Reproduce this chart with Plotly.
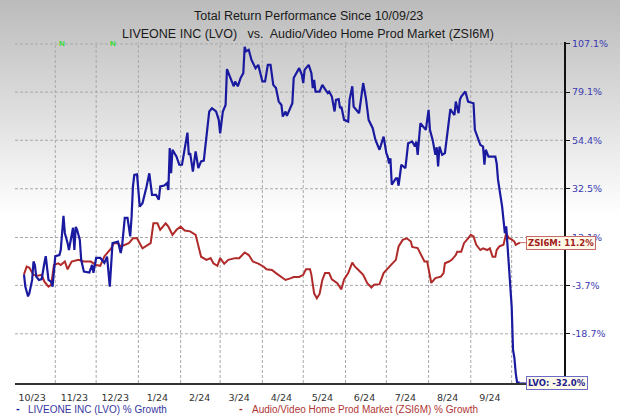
import math
import plotly.graph_objects as go

# ---------------- data ----------------
lvo_dates = [
    "2023-10-09", "2023-10-10", "2023-10-12", "2023-10-13", "2023-10-15", "2023-10-16", "2023-10-17",
    "2023-10-18", "2023-10-20", "2023-10-22", "2023-10-24", "2023-10-25", "2023-10-27", "2023-10-29",
    "2023-10-30", "2023-10-31", "2023-11-01", "2023-11-04", "2023-11-05", "2023-11-07", "2023-11-08",
    "2023-11-10", "2023-11-11", "2023-11-14", "2023-11-15", "2023-11-16", "2023-11-17", "2023-11-19",
    "2023-11-20", "2023-11-22", "2023-11-26", "2023-11-28", "2023-11-29", "2023-12-01", "2023-12-04",
    "2023-12-07", "2023-12-09", "2023-12-11", "2023-12-13", "2023-12-17", "2023-12-19", "2023-12-20",
    "2023-12-22", "2023-12-24", "2023-12-26", "2023-12-27", "2023-12-28", "2023-12-29", "2023-12-31",
    "2024-01-02", "2024-01-04", "2024-01-07", "2024-01-09", "2024-01-11", "2024-01-14", "2024-01-16",
    "2024-01-17", "2024-01-20", "2024-01-22", "2024-01-23", "2024-01-24", "2024-01-25", "2024-01-26",
    "2024-01-29", "2024-01-31", "2024-02-02", "2024-02-04", "2024-02-06", "2024-02-07", "2024-02-08",
    "2024-02-10", "2024-02-12", "2024-02-14", "2024-02-16", "2024-02-18", "2024-02-20", "2024-02-22",
    "2024-02-24", "2024-02-27", "2024-02-29", "2024-03-01", "2024-03-03", "2024-03-05", "2024-03-06",
    "2024-03-08", "2024-03-11", "2024-03-12", "2024-03-14", "2024-03-16", "2024-03-18", "2024-03-19",
    "2024-03-20", "2024-03-22", "2024-03-24", "2024-03-27", "2024-03-29", "2024-04-01", "2024-04-03",
    "2024-04-05", "2024-04-07", "2024-04-09", "2024-04-11", "2024-04-13", "2024-04-15", "2024-04-16",
    "2024-04-18", "2024-04-19", "2024-04-23", "2024-04-24", "2024-04-26", "2024-04-28", "2024-04-30",
    "2024-05-01", "2024-05-02", "2024-05-05", "2024-05-07", "2024-05-08", "2024-05-09", "2024-05-10",
    "2024-05-13", "2024-05-15", "2024-05-17", "2024-05-19", "2024-05-20", "2024-05-22", "2024-05-24",
    "2024-05-25", "2024-05-27", "2024-05-28", "2024-05-29", "2024-05-31", "2024-06-03", "2024-06-04",
    "2024-06-06", "2024-06-07", "2024-06-09", "2024-06-11", "2024-06-14", "2024-06-16", "2024-06-18",
    "2024-06-21", "2024-06-23", "2024-06-26", "2024-06-29", "2024-07-01", "2024-07-02", "2024-07-03",
    "2024-07-04", "2024-07-05", "2024-07-08", "2024-07-09", "2024-07-10", "2024-07-12", "2024-07-15",
    "2024-07-17", "2024-07-20", "2024-07-22", "2024-07-23", "2024-07-24", "2024-07-26", "2024-07-28",
    "2024-07-30", "2024-08-01", "2024-08-02", "2024-08-04", "2024-08-05", "2024-08-06", "2024-08-07",
    "2024-08-08", "2024-08-09", "2024-08-11", "2024-08-13", "2024-08-15", "2024-08-17", "2024-08-18",
    "2024-08-20", "2024-08-21", "2024-08-23", "2024-08-24", "2024-08-25", "2024-08-28", "2024-08-30",
    "2024-09-01", "2024-09-03", "2024-09-04", "2024-09-05", "2024-09-07", "2024-09-08", "2024-09-10",
    "2024-09-11", "2024-09-12", "2024-09-14", "2024-09-17", "2024-09-19", "2024-09-20", "2024-09-21",
    "2024-09-24", "2024-09-26", "2024-09-27", "2024-09-28", "2024-09-29", "2024-10-01", "2024-10-02",
    "2024-10-03", "2024-10-04", "2024-10-05", "2024-10-07",
]
lvo_pct = [
    0, -4.1, -7.3, -6.2, -1.9, 4.4, 3.2,
    -0.8, -1.9, -1.6, 3.9, 6.3, -1.9, -2.5,
    -4.1, 1.5, 6.3, 6.7, 8.5, 21.4, 14.8,
    11.1, 8.5, 16.8, 8.5, 17.1, 16.0, 12.2,
    5.0, 0.9, 0.6, 3.2, 0.5, 5.7, 5.7,
    3.9, 6.1, -4.1, 11.0, 11.6, 7.4, 9.8,
    20.6, 20.6, 13.5, 21.1, 33.5, 38.5, 38.7,
    25.1, 26.5, 33.5, 39.2, 29.9, 29.9, 27.9,
    33.5, 33.9, 34.9, 32.0, 50.7, 39.2, 49.9,
    46.7, 43.0, 43.0, 51.4, 58.1, 47.5, 48.3,
    39.9, 49.1, 41.5, 44.5, 44.9, 56.2, 68.8,
    70.5, 68.8, 64.5, 57.8, 68.8, 72.2, 92.0,
    87.8, 82.3, 85.0, 82.3, 86.9, 89.7, 105.3,
    102.6, 103.5, 97.4, 92.6, 94.5, 85.0, 85.0,
    94.5, 94.5, 83.1, 81.3, 74.0, 72.2, 66.2,
    68.8, 66.5, 73.1, 86.9, 89.7, 92.6, 88.7,
    84.1, 91.6, 94.5, 89.7, 81.3, 85.9, 79.4,
    79.4, 83.1, 80.7, 78.6, 79.4, 76.7, 68.8,
    74.9, 75.3, 70.5, 71.3, 64.5, 63.6, 74.9,
    82.3, 71.3, 69.6, 67.9, 84.1, 75.8, 64.5,
    60.3, 54.6, 49.9, 56.2, 48.3, 46.7, 43.6,
    45.9, 34.2, 37.0, 37.0, 33.8, 43.0, 41.5,
    53.0, 53.8, 51.4, 53.8, 47.5, 62.8, 61.1,
    59.5, 69.6, 59.5, 54.6, 50.7, 47.5, 51.1,
    42.2, 51.4, 47.5, 48.3, 57.8, 70.0, 68.8,
    67.0, 74.0, 67.9, 74.9, 76.7, 79.4, 74.0,
    73.5, 73.1, 59.5, 57.8, 53.8, 52.2, 51.4,
    43.0, 49.9, 46.7, 46.7, 46.7, 43.6, 36.3,
    25.1, 14.7, 17.3, 9.8, 2.6, -10.5, -23.3,
    -25.5, -29.6, -32.0, -32.0,
]

zsi_dates = [
    "2023-10-09", "2023-10-11", "2023-10-13", "2023-10-16", "2023-10-19", "2023-10-22", "2023-10-24",
    "2023-10-27", "2023-10-29", "2023-10-30", "2023-10-31", "2023-11-03", "2023-11-05", "2023-11-08",
    "2023-11-10", "2023-11-13", "2023-11-18", "2023-11-22", "2023-11-27", "2023-12-01", "2023-12-04",
    "2023-12-07", "2023-12-09", "2023-12-12", "2023-12-14", "2023-12-17", "2023-12-19", "2023-12-22",
    "2023-12-25", "2023-12-28", "2023-12-31", "2024-01-04", "2024-01-08", "2024-01-10", "2024-01-12",
    "2024-01-15", "2024-01-17", "2024-01-21", "2024-01-23", "2024-01-26", "2024-01-29", "2024-02-01",
    "2024-02-04", "2024-02-08", "2024-02-12", "2024-02-14", "2024-02-16", "2024-02-20", "2024-02-23",
    "2024-02-25", "2024-02-28", "2024-03-01", "2024-03-04", "2024-03-07", "2024-03-12", "2024-03-15",
    "2024-03-19", "2024-03-22", "2024-03-25", "2024-03-29", "2024-04-02", "2024-04-04", "2024-04-08",
    "2024-04-11", "2024-04-15", "2024-04-18", "2024-04-22", "2024-04-24", "2024-04-28", "2024-05-01",
    "2024-05-03", "2024-05-06", "2024-05-07", "2024-05-09", "2024-05-11", "2024-05-13", "2024-05-15",
    "2024-05-17", "2024-05-20", "2024-05-22", "2024-05-26", "2024-05-29", "2024-05-31", "2024-06-03",
    "2024-06-06", "2024-06-08", "2024-06-10", "2024-06-14", "2024-06-17", "2024-06-20", "2024-06-22",
    "2024-06-26", "2024-06-29", "2024-07-02", "2024-07-05", "2024-07-08", "2024-07-10", "2024-07-13",
    "2024-07-16", "2024-07-19", "2024-07-20", "2024-07-24", "2024-07-26", "2024-07-29", "2024-07-31",
    "2024-08-03", "2024-08-06", "2024-08-10", "2024-08-12", "2024-08-13", "2024-08-16", "2024-08-18",
    "2024-08-21", "2024-08-22", "2024-08-25", "2024-08-27", "2024-08-30", "2024-09-01", "2024-09-03",
    "2024-09-05", "2024-09-08", "2024-09-10", "2024-09-13", "2024-09-15", "2024-09-17", "2024-09-19",
    "2024-09-20", "2024-09-22", "2024-09-25", "2024-09-26", "2024-09-27", "2024-09-29", "2024-10-01",
    "2024-10-03", "2024-10-04", "2024-10-07",
]
zsi_pct = [
    0, 2.6, 2.2, -0.2, -0.5, -0.2, -2.5,
    -4.1, -3.5, -0.2, 3.2, 3.8, 3.2, 4.4,
    1.7, 4.4, 5.0, 4.4, 4.4, 3.2, 2.9,
    6.2, 7.3, 9.1, 11.0, 11.0, 9.8, 10.4,
    11.0, 12.8, 12.8, 9.1, 10.4, 11.0, 18.5,
    18.5, 16.0, 18.5, 17.2, 14.1, 16.0, 17.2,
    15.7, 15.4, 14.1, 9.8, 6.1, 5.0, 5.6,
    3.8, 2.9, 5.6, 3.6, 5.0, 5.6, 5.6,
    7.6, 6.7, 4.4, 3.7, 2.6, 1.7, 1.5,
    0.4, -0.9, -1.9, -1.3, -0.9, -0.9, -0.2,
    1.7, 1.7, -0.2, -6.3, -7.9, -6.5, -1.9,
    0.4, 0.4, -1.7, -3.0, -5.0, -1.7, 0.4,
    4.0, 2.6, 1.7, -0.2, -3.0, -4.4, -3.5,
    -3.3, 0.4, 2.1, 3.5, 5.0, 9.8, 12.2,
    12.8, 11.6, 9.6, 9.2, 7.4, 4.4, 4.4,
    -2.9, -1.3, -0.8, 0.4, 3.8, 4.4, 5.0,
    6.7, 7.9, 7.9, 11.0, 12.8, 14.1, 13.5,
    10.4, 8.5, 9.1, 8.5, 9.1, 6.1, 6.1,
    8.5, 9.8, 10.4, 12.2, 14.7, 12.8, 12.4,
    11.6, 10.4, 11.2,
]

y_tick_pct = [-18.7, -3.7, 13.1, 32.5, 54.4, 79.1, 107.1]
y_tick_text = ["-18.7%", "-3.7%", "13.1%", "32.5%", "54.4%", "79.1%", "107.1%"]

x_tick_dates = ["2023-10-15", "2023-11-15", "2023-12-15", "2024-01-15", "2024-02-15", "2024-03-15",
                "2024-04-15", "2024-05-15", "2024-06-15", "2024-07-15", "2024-08-15", "2024-09-15"]
x_tick_text = ["10/23", "11/23", "12/23", "1/24", "2/24", "3/24", "4/24", "5/24", "6/24", "7/24", "8/24", "9/24"]
month_starts = ["2023-11-01", "2023-12-01", "2024-01-01", "2024-02-01", "2024-03-01", "2024-04-01",
                "2024-05-01", "2024-06-01", "2024-07-01", "2024-08-01", "2024-09-01", "2024-10-01"]
news_dates = ["2023-11-06", "2023-12-13"]

lvo_name = "LIVEONE INC (LVO) % Growth"
zsi_name = "Audio/Video Home Prod Market (ZSI6M) % Growth"

# ---------------- styling ----------------
OFFSET = 130.0  # the chart's return scale is logarithmic in (OFFSET + %)
BLUE = "#1a1aa0"
RED = "#b02a2a"
GRID = "#a8a8a8"
GRID_DASH = "3px,2px"

L, R, T, B = 15, 53, 42, 33
W, H = 620, 416
pw, ph = W - L - R, H - T - B


def px2paper_x(px):
    return (px - L) / pw


def px2paper_y(py):
    return (H - B - py) / ph


fig = go.Figure()
fig.add_trace(go.Scatter(x=zsi_dates, y=[OFFSET + v for v in zsi_pct], mode="lines",
                         line=dict(color=RED, width=2), name=zsi_name, showlegend=False))
fig.add_trace(go.Scatter(x=lvo_dates, y=[OFFSET + v for v in lvo_pct], mode="lines",
                         line=dict(color=BLUE, width=2.2), name=lvo_name, showlegend=False))

# dashed grid, drawn beneath the lines
shapes = []
for d in month_starts:
    shapes.append(dict(type="line", xref="x", yref="paper", x0=d, x1=d, y0=0, y1=1,
                       line=dict(color=GRID, width=1, dash=GRID_DASH), layer="between"))
for v in y_tick_pct:
    shapes.append(dict(type="line", xref="paper", yref="y", x0=0, x1=1,
                       y0=OFFSET + v, y1=OFFSET + v,
                       line=dict(color=GRID, width=1, dash=GRID_DASH), layer="between"))

FONT_SANS = "Liberation Sans, Arial"


def text_note(text, px, py, size, color, xanchor="center", bold=False, family=FONT_SANS):
    return dict(text=text, xref="paper", yref="paper", x=px2paper_x(px), y=px2paper_y(py),
                xanchor=xanchor, yanchor="middle", showarrow=False,
                font=dict(family=family, size=size, color=color, weight="bold" if bold else "normal"))


annotations = []
annotations.append(text_note("Total Return Performance Since 10/09/23", 310, 16, 12.5, "#1a1a1a"))
annotations.append(text_note("LIVEONE INC (LVO)   vs.  Audio/Video Home Prod Market (ZSI6M)", 310, 34, 12.5, "#1a1a1a"))
for d in news_dates:
    annotations.append(dict(text="N", xref="x", yref="paper", x=d, y=px2paper_y(43),
                            xanchor="center", yanchor="middle", showarrow=False,
                            font=dict(family=FONT_SANS, size=8, color="#33dd33", weight="bold")))
# legend
annotations.append(text_note("-", 18, 408, 11, BLUE, bold=True))
annotations.append(text_note(lvo_name, 26, 409, 10, "#3535a0", xanchor="left"))
annotations.append(text_note("-", 242, 408, 11, RED, bold=True))
annotations.append(text_note(zsi_name, 251, 409, 10, "#b03535", xanchor="left"))
# end labels
annotations.append(dict(text="ZSI6M: %.1f%%" % zsi_pct[-1], x=zsi_dates[-1], y=math.log10(OFFSET + zsi_pct[-1]),
                        xref="x", yref="y", showarrow=True, arrowhead=0, arrowwidth=1, arrowcolor="#c86a6a",
                        ax=6, ay=0, xanchor="left", yanchor="middle", standoff=0,
                        bgcolor="#fffbe8", bordercolor="#c86a6a", borderwidth=1, borderpad=1,
                        font=dict(family="DejaVu Sans", size=8.5, color="#a02020", weight="bold")))
annotations.append(dict(text="LVO: %.1f%%" % lvo_pct[-1], x=lvo_dates[-1], y=math.log10(OFFSET + lvo_pct[-1]),
                        xref="x", yref="y", showarrow=True, arrowhead=0, arrowwidth=1, arrowcolor="#6a6ac8",
                        ax=6, ay=0, xanchor="left", yanchor="middle", standoff=0,
                        bgcolor="#fffbe8", bordercolor="#6a6ac8", borderwidth=1, borderpad=1,
                        font=dict(family="DejaVu Sans", size=8.5, color="#20208f", weight="bold")))

fig.update_layout(
    width=W, height=H, autosize=False,
    margin=dict(l=L, r=R, t=T, b=B, pad=0),
    paper_bgcolor="rgba(0,0,0,0)", plot_bgcolor="rgba(0,0,0,0)",
    showlegend=False,
    shapes=shapes, annotations=annotations,
    xaxis=dict(type="date", range=["2023-10-02 10:00", "2024-11-08 10:00"],
               tickvals=x_tick_dates, ticktext=x_tick_text, showgrid=False, zeroline=False,
               showline=True, linecolor="#333333", linewidth=2, ticks="",
               ticklabelstandoff=5,
               tickfont=dict(family="DejaVu Sans", size=9.5, color="#333333")),
    yaxis=dict(type="log", side="right",
               range=[math.log10(OFFSET - 32.1), math.log10(OFFSET + 108.3)],
               tickvals=[OFFSET + v for v in y_tick_pct], ticktext=y_tick_text,
               showgrid=False, zeroline=False,
               showline=True, linecolor="#111111", linewidth=2,
               ticks="outside", ticklen=4, tickcolor="#111111",
               tickfont=dict(family="DejaVu Sans", size=9.5, color="#3a3ab0")),
)

# page background: grey-to-white vertical gradient behind the transparent figure
PAGE_JS = ("document.documentElement.style.background='#ffffff';"
           "document.body.style.margin='0';document.body.style.padding='0';"
           "document.body.style.minHeight='416px';"
           "document.body.style.background='linear-gradient(to bottom, #bbbbbb 0px, #ffffff 215px, #ffffff 416px) no-repeat';")
fig.write_html("out.html", config={"displayModeBar": False}, post_script=PAGE_JS)
